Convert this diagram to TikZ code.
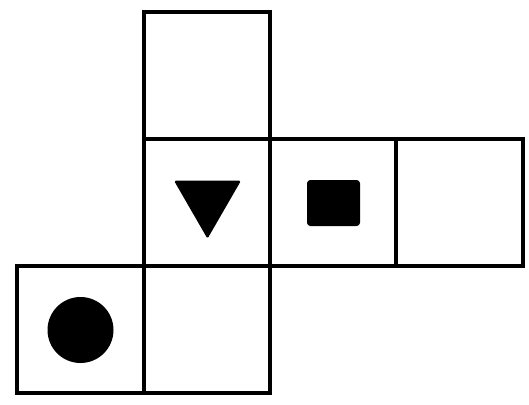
\documentclass[tikz,border=0pt]{standalone}
\usepackage{tikz}
\usetikzlibrary{shapes.geometric}

\begin{document}
\begin{tikzpicture}[
  x=0.75pt, y=-0.75pt,
  face/.style={draw, line width=3pt, minimum width=94.9pt,
               minimum height=95.25pt, inner sep=0pt, outer sep=0pt},
  dot/.style={circle, fill=black, inner sep=0pt, minimum size=49.5pt},
  tri/.style={regular polygon, regular polygon sides=3,
              shape border rotate=180, fill=black, inner sep=0pt,
              minimum size=58pt, rounded corners=1.2pt},
  blk/.style={rectangle, fill=black, inner sep=0pt, minimum width=39.75pt,
              minimum height=34.5pt, rounded corners=2.5pt},
]
  \useasboundingbox (0,0) rectangle (529,404);

  % === Net of the cube ===
  \node[face] (ftop)   at (207, 75)    {};
  \node[face] (ftri)   at (207, 202.5) {};
  \node[face] (fsq)    at (333, 202.5) {};
  \node[face] (fright) at (459.5, 202.5) {};
  \node[face] (fdot)   at (80.5, 329)  {};
  \node[face] (fbot)   at (207, 329)   {};

  % === Symbols ===
  \node[tri] (stri) at (207.5, 200) {};
  \node[blk] (ssq)  at (333.5, 203) {};
  \node[dot] (sdot) at (80.5, 330)  {};
\end{tikzpicture}
\end{document}
